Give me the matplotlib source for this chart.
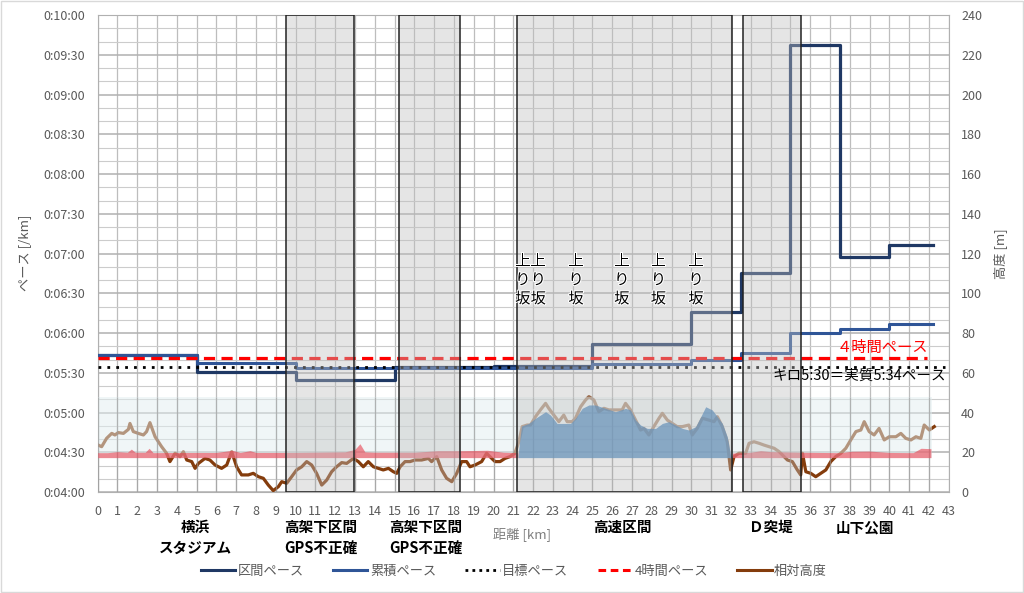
import matplotlib
matplotlib.use("Agg")
import matplotlib.pyplot as plt
import matplotlib.patheffects as pe
from matplotlib.patches import Rectangle
from matplotlib.lines import Line2D
from matplotlib.ticker import MultipleLocator, FuncFormatter

plt.rcParams['font.family'] = ['Noto Sans CJK JP', 'DejaVu Sans']

# -------------------------------
# Data (pace in seconds per km, height in m)
# -------------------------------
split_km = [0, 5, 10, 15, 20, 25, 30, 32.5, 35, 37.5, 40, 42.195]
lap_pace = [343.4, 330.8, 324.5, 334.5, 335.0, 351.5, 376.1, 405.1, 577.4, 417.6, 426.4]
avg_pace = [343.4, 337.5, 333.4, 333.8, 333.8, 336.6, 339.4, 344.7, 359.8, 363.0, 366.6]

target_km = [0, 42.8]
target_pace = [334, 334]          # 5:34
four_hour_km = [0, 41.9]
four_hour_pace = [341.3, 341.3]   # 5:41

height_km = [0.03, 0.2, 0.45, 0.71, 0.87, 1.04, 1.3, 1.55, 1.63, 1.8, 2.05, 2.31, 2.47, 2.64, 2.9,
             3.23, 3.48, 3.65, 3.91, 4.16, 4.33, 4.5, 4.75, 4.92, 5.09, 5.42, 5.67, 5.93, 6.26, 6.52,
             6.77, 7.02, 7.27, 7.61, 7.86, 8.12, 8.37, 8.62, 8.87, 9.13, 9.3, 9.55, 9.8, 10.05, 10.31,
             10.56, 10.81, 11.06, 11.32, 11.57, 11.82, 12.07, 12.33, 12.58, 12.92, 13.17, 13.42, 13.67,
             13.93, 14.18, 14.43, 14.69, 14.94, 15.11, 15.28, 15.53, 15.78, 16.03, 16.37, 16.71, 16.87,
             17.13, 17.38, 17.63, 17.89, 18.14, 18.39, 18.64, 18.81, 19.07, 19.4, 19.65, 19.91, 20.08,
             20.33, 20.58, 20.83, 21.08,
             21.28, 21.45, 21.7, 21.87, 22.12, 22.37, 22.63, 22.79, 23.05, 23.3, 23.55, 23.72, 23.97,
             24.14, 24.4, 24.65, 24.82, 25.07, 25.32, 25.58, 25.83, 26.16, 26.5, 26.67, 26.92, 27.18,
             27.43, 27.6, 27.85, 28.1, 28.36, 28.53, 28.78, 29.03, 29.28, 29.54, 29.87, 30.04, 30.29,
             30.55, 30.88, 31.14, 31.31, 31.56, 31.81, 31.98, 32.15, 32.4, 32.74, 32.91, 33.16, 33.42,
             33.67, 33.92, 34.18, 34.43, 34.6, 34.85, 35.1, 35.35, 35.52, 35.61, 35.78, 36.03, 36.28,
             36.54, 36.79, 37.04, 37.29, 37.55, 37.8, 38.05, 38.31, 38.56, 38.73, 38.98, 39.23, 39.48,
             39.74, 39.99, 40.33, 40.58, 40.83, 41.09, 41.34, 41.59, 41.76, 42.02, 42.27]
height_m = [23.6, 22.8, 27.0, 29.5, 28.7, 29.9, 29.5, 31.5, 34.5, 30.4, 29.5, 28.7, 30.4, 34.9, 27.8,
            22.8, 19.5, 15.3, 19.5, 17.8, 20.3, 16.1, 15.3, 11.9, 14.4, 16.9, 16.1, 13.6, 11.9, 13.6,
            20.3, 12.7, 8.6, 8.6, 9.4, 7.7, 6.9, 3.5, 0.7, 2.7, 5.2, 4.4, 7.7, 11.1, 12.7,
            15.3, 13.6, 9.4, 3.5, 6.0, 10.2, 12.7, 14.8, 14.4, 16.9, 15.3, 12.7, 15.3,
            12.7, 11.9, 11.1, 11.9, 10.2, 9.4, 12.7, 15.3, 15.3, 16.1, 16.1, 16.9, 15.3,
            17.8, 11.1, 6.9, 5.2, 9.4, 15.3, 15.3, 12.7, 13.6, 15.3, 19.5, 16.9, 15.3,
            15.3, 16.9, 17.8, 19.5,
            25.3, 32.9, 33.7, 33.7, 37.9, 41.3, 44.6, 42.1, 38.7, 35.4, 38.7, 35.4, 35.4,
            37.1, 42.9, 46.3, 48.0, 46.3, 40.4, 42.1, 41.3, 41.3, 41.3, 44.6, 41.3, 36.2,
            31.2, 32.0, 28.7, 32.9, 37.1, 39.6, 36.2, 34.5, 32.9, 32.9, 33.7, 28.7, 32.0,
            37.1, 36.2, 35.4, 37.9, 32.9, 25.3, 11.1, 17.8, 19.5, 19.5, 24.5, 25.3, 24.5,
            23.6, 22.8, 22.0, 20.3, 18.6, 16.1, 15.3, 11.1, 8.6, 19.5, 10.2, 9.4, 7.7,
            9.4, 11.1, 15.3, 17.8, 19.5, 22.0, 26.2, 30.4, 31.2, 35.4, 30.4, 28.7, 32.0,
            26.2, 27.8, 27.8, 29.5, 27.0, 26.2, 27.8, 27.0, 33.7, 31.2, 32.9]

# GPS elevation band (red) and expressway section (blue)
area_base = 17.3
red_left_km = [0, 0.5, 1.0, 1.5, 1.7, 1.9, 2.4, 2.6, 2.8, 4.0, 6.0, 6.8, 7.2, 7.7, 8.0, 10.0,
               12.5, 13.0, 13.25, 13.5, 14.0, 16.0, 17.2, 18.5, 19.7, 20.5, 21.24]
red_left_top = [19.8, 19.8, 20.3, 20.0, 21.6, 20.0, 20.0, 22.0, 19.8, 19.9, 19.9, 21.0, 19.9, 20.8,
                19.9, 19.9, 20.2, 21.5, 24.3, 20.2, 20.0, 20.0, 20.8, 20.8, 21.0, 20.0, 19.8]
blue_km = [21.24, 21.41, 21.78, 22.12, 22.63, 22.88, 23.21, 23.55, 23.89, 24.14, 24.48, 24.82, 25.15,
           25.41, 25.66, 26.16, 26.67, 26.92, 27.18, 27.43, 27.77, 28.19, 28.53, 28.86, 29.2, 29.54,
           29.87, 30.21, 30.47, 30.72, 31.05, 31.31, 31.56, 31.81, 31.98, 32.07]
blue_top = [18.6, 33.2, 34.5, 37.1, 40.4, 38.7, 34.5, 34.5, 34.5, 37.1, 42.1, 43.8, 43.8,
            42.9, 42.1, 40.4, 42.1, 41.3, 36.2, 33.7, 32.0, 32.0, 34.5, 35.4, 33.7, 32.0,
            31.2, 32.9, 37.9, 42.9, 41.3, 37.9, 34.5, 27.8, 18.6, 17.3]
red_right_km = [32.07, 33.0, 33.5, 34.0, 35.5, 37.5, 38.1, 39.0, 40.0, 41.2, 41.6, 42.1]
red_right_top = [19.6, 20.0, 20.8, 20.3, 20.0, 19.8, 20.5, 20.6, 19.9, 19.8, 22.0, 21.8]

# shaded sections [start, end] in km
sections = [(9.51, 12.93), (15.2, 18.33), (21.19, 32.07), (32.62, 35.52)]
uphill_km = [21.48, 22.26, 24.17, 26.48, 28.33, 30.23]

bottom_labels = [(4.95, "横浜\nスタジアム"), (11.29, "高架下区間\nGPS不正確"),
                 (16.59, "高架下区間\nGPS不正確"), (26.5, "高速区間"),
                 (34.0, "Ｄ突堤"), (38.77, "山下公園")]

# -------------------------------
# Figure
# -------------------------------
fig = plt.figure(figsize=(10.24, 5.93), dpi=100)
ax = fig.add_axes([0.0954, 0.1703, 0.8311, 0.8044])
ax2 = ax.twinx()

navy = '#1f3864'
blue = '#2f5597'
brown = '#843c0c'
grey_txt = '#595959'

ax.set_xlim(0, 43)
ax.set_ylim(240, 600)
ax2.set_ylim(0, 240)

ax.xaxis.set_major_locator(MultipleLocator(1))
ax.yaxis.set_major_locator(MultipleLocator(30))
ax.yaxis.set_minor_locator(MultipleLocator(10))
ax.yaxis.set_major_formatter(FuncFormatter(lambda s, _: f"0:{int(s) // 60:02d}:{int(s) % 60:02d}"))
ax2.yaxis.set_major_locator(MultipleLocator(20))

ax.grid(which='major', axis='x', color='#bdbdbd', lw=0.9)
ax.grid(which='major', axis='y', color='#b0b0b0', lw=1.1)
ax.grid(which='minor', axis='y', color='#cccccc', lw=0.8)
ax.set_axisbelow(True)

ax.tick_params(which='both', length=0, labelsize=9, colors=grey_txt, pad=9)
ax2.tick_params(length=0, labelsize=9, colors=grey_txt, pad=9)
for sp in ax.spines.values():
    sp.set_color('#b0b0b0')
    sp.set_linewidth(0.8)
for sp in ax2.spines.values():
    sp.set_visible(False)

# pace lines
ax.step(split_km, lap_pace + [lap_pace[-1]], where='post', color=navy, lw=2.3, zorder=3)
ax.step(split_km, avg_pace + [avg_pace[-1]], where='post', color=blue, lw=2.2, zorder=3)
ax.plot(target_km, target_pace, color='black', lw=2.0, ls=(0, (1, 2.2)), zorder=3)
ax.plot(four_hour_km, four_hour_pace, color='#ff0000', lw=2.3, ls=(0, (3.5, 2)), zorder=3)

# height overlay
ax2.plot(height_km, height_m, color=brown, lw=2.3, zorder=2)
ax2.fill_between([0, 42.15], area_base, 47.6, color='#e2eff1', alpha=0.5, lw=0, zorder=3)
ax2.vlines(range(0, 43), 0, 47.6, color='#9a9a9a', lw=0.9, alpha=0.6, zorder=3)
ax2.fill_between(red_left_km, area_base, red_left_top, color='#e8404f', alpha=0.6, lw=0, zorder=4)
ax2.fill_between(red_right_km, area_base, red_right_top, color='#e8404f', alpha=0.6, lw=0, zorder=4)
ax2.fill_between(blue_km, area_base, blue_top, color='#2e75b6', alpha=0.72, lw=0, zorder=4)

# shaded sections
for x0, x1 in sections:
    ax2.add_patch(Rectangle((x0, 0), x1 - x0, 240, facecolor=(0.75, 0.75, 0.75, 0.4),
                            edgecolor='#222222', lw=1.1, zorder=5))

for x in uphill_km:
    ax2.text(x, 106.7, "上\nり\n坂", ha='center', va='center', fontsize=11, linespacing=1.15,
             color='black', zorder=7,
             path_effects=[pe.withStroke(linewidth=1.5, foreground='white')])

ax2.text(41.95, 72.8, "４時間ペース", ha='right', va='center', fontsize=11, color='#ff0000', zorder=7)
ax2.text(42.85, 58.4, "キロ5:30＝実質5:34ペース", ha='right', va='center', fontsize=10.5,
         color='black', zorder=7)

# labels below the axis
trans = ax.get_xaxis_transform()
for x, txt in bottom_labels:
    ax.text(x, -0.057, txt, transform=trans, ha='center', va='top',
            fontsize=10.5, fontweight='bold', linespacing=1.35)
ax.text(19.97, -0.088, "距離 [km]", transform=trans, ha='left', va='center', fontsize=9.5,
        color='#7f7f7f')

fig.text(25 / 1024, 1 - 253 / 593, "ペース [/km]", rotation=90, ha='center', va='center',
         fontsize=9.5, color=grey_txt)
fig.text(1000 / 1024, 1 - 254 / 593, "高度 [m]", rotation=90, ha='center', va='center',
         fontsize=9.5, color=grey_txt)

handles = [Line2D([], [], color=navy, lw=2.2),
           Line2D([], [], color=blue, lw=2.2),
           Line2D([], [], color='black', lw=2.0, ls=(0, (1, 1.5))),
           Line2D([], [], color='#ff0000', lw=2.2, ls=(0, (2.5, 1.5))),
           Line2D([], [], color=brown, lw=2.2)]
labels = ["区間ペース", "累積ペース", "目標ペース", "4時間ペース", "相対高度"]
leg = fig.legend(handles, labels, loc='center', bbox_to_anchor=(0.502, 1 - 571 / 593), ncol=5,
                 frameon=False, fontsize=9.5, handlelength=2.6, columnspacing=2.2, handletextpad=0.2)
for t in leg.get_texts():
    t.set_color(grey_txt)

fig.patches.append(Rectangle((0.001, 0.001), 0.998, 0.997, transform=fig.transFigure, fill=False,
                             edgecolor='#d9d9d9', lw=1.0))

fig.savefig("out.png", dpi=100)
